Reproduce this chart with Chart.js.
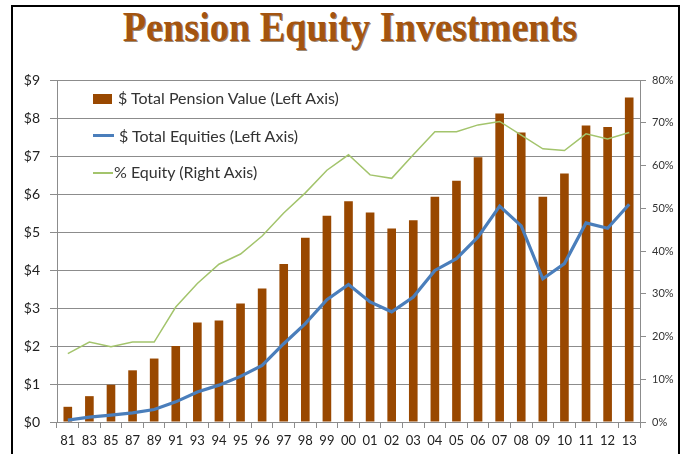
<!DOCTYPE html>
<html>
<head>
<meta charset="utf-8">
<script src="https://cdn.jsdelivr.net/npm/chart.js@4"></script>
<style>
  html, body { margin: 0; padding: 0; background: #fff; overflow: hidden; }
  body { width: 682px; height: 454px; position: relative; }
  #frame { position: absolute; left: 11px; top: 5px; width: 669px; height: 470px; border: 2px solid #000; box-sizing: border-box; }
  #title { position: absolute; left: 350px; top: 6px; transform: translateX(-50%) scaleX(0.91); white-space: nowrap;
           font-family: "Liberation Serif", serif; font-weight: bold; font-size: 42px; line-height: 42px;
           color: #a4540f; text-shadow: 1px 1px 0 rgba(70,35,0,0.55); }
  #wrap { position: absolute; left: 0; top: 0; width: 682px; height: 454px; }
  .lg { position: absolute; font-family: Lato, sans-serif; font-size: 16px; color: #333; white-space: nowrap; line-height: 16px; }
  .sw { position: absolute; }
</style>
</head>
<body>
<div id="frame"></div>
<div id="title">Pension Equity Investments</div>
<div id="wrap"><canvas id="myChart"></canvas></div>
<div id="legend"></div>
<script>
// Years (x axis)
const years = ['81','83','85','87','89','91','93','94','95','96','97','98','99','00',
               '01','02','03','04','05','06','07','08','09','10','11','12','13'];

// $ trillions, left axis
const totalPension = [0.40, 0.68, 0.98, 1.36, 1.67, 2.00, 2.62, 2.67, 3.12, 3.51, 4.16, 4.85, 5.43, 5.81,
                      5.51, 5.09, 5.31, 5.93, 6.35, 6.97, 8.12, 7.62, 5.93, 6.54, 7.80, 7.76, 8.54];
const totalEquities = [0.05, 0.13, 0.18, 0.24, 0.33, 0.53, 0.79, 0.97, 1.20, 1.49, 2.06, 2.59, 3.22, 3.62,
                       3.16, 2.90, 3.29, 3.99, 4.30, 4.87, 5.68, 5.16, 3.77, 4.17, 5.24, 5.10, 5.73];

// % equity, right axis
const pctEquity = [16.0, 18.7, 17.6, 18.7, 18.7, 26.9, 32.4, 36.9, 39.3, 43.5, 48.9, 53.6, 58.9, 62.5,
                   57.8, 57.0, 62.5, 67.9, 67.9, 69.5, 70.3, 67.1, 63.9, 63.5, 67.4, 66.2, 67.7];

const legendLabels = ['$ Total Pension Value (Left Axis)', '$ Total Equities (Left Axis)', '% Equity (Right Axis)'];

const brown = '#994800';
const blue = '#4a7ebb';
const green = '#a3c46c';
const gridGray = '#8c8c8c';
const tickFont = { family: 'Lato', size: 13 };

const ctx = document.getElementById('myChart').getContext('2d');
const chart = new Chart(ctx, {
    type: 'bar',
    data: {
        labels: years,
        datasets: [
            { type: 'line', label: legendLabels[2], data: pctEquity, yAxisID: 'y1', borderColor: green, borderWidth: 1.5,
              pointRadius: 0, tension: 0, order: 1 },
            { type: 'line', label: legendLabels[1], data: totalEquities, yAxisID: 'y', borderColor: blue, borderWidth: 3.2,
              pointRadius: 0, tension: 0, order: 2 },
            { type: 'bar', label: legendLabels[0], data: totalPension, yAxisID: 'y', backgroundColor: brown,
              barPercentage: 0.4, categoryPercentage: 1.0, order: 3 }
        ]
    },
    options: {
        responsive: true,
        maintainAspectRatio: false,
        animation: false,
        layout: { padding: { left: 0, right: 0, top: 80, bottom: 0 } },
        plugins: { legend: { display: false }, tooltip: { enabled: false } },
        scales: {
            x: {
                grid: { drawOnChartArea: false, drawTicks: true, tickLength: 6, color: gridGray, offset: true },
                border: { color: gridGray },
                ticks: { color: '#222', font: tickFont, padding: 5, maxRotation: 0, autoSkip: false },
                afterFit: s => { s.height = 32; }
            },
            y: {
                position: 'left',
                min: 0, max: 9,
                grid: { color: gridGray, tickLength: 7 },
                border: { color: gridGray },
                ticks: { stepSize: 1, color: '#222', font: { family: 'Lato', size: 14 }, padding: 10,
                         callback: v => '$' + v },
                afterFit: s => { s.width = 57; }
            },
            y1: {
                position: 'right',
                min: 0, max: 80,
                grid: { drawOnChartArea: false, tickLength: 6, color: gridGray },
                border: { color: gridGray },
                ticks: { stepSize: 10, color: '#333', font: { family: 'Lato', size: 11 }, padding: 6,
                         callback: v => v + '%' },
                afterFit: s => { s.width = 42; }
            }
        }
    }
});

// Legend inside the plot, upper left
const legend = document.getElementById('legend');
const legendItems = [
    { label: legendLabels[0], sw: 'left:93px;top:94px;width:19px;height:10px;background:' + brown, tx: 118, ty: 90 },
    { label: legendLabels[1], sw: 'left:93px;top:134px;width:21px;height:3px;background:' + blue, tx: 119, ty: 128 },
    { label: legendLabels[2], sw: 'left:93px;top:172px;width:20px;height:1.5px;background:' + green, tx: 114, ty: 164 }
];
legendItems.forEach(it => {
    const s = document.createElement('div');
    s.className = 'sw';
    s.style.cssText = it.sw;
    legend.appendChild(s);
    const t = document.createElement('div');
    t.className = 'lg';
    t.style.left = it.tx + 'px';
    t.style.top = it.ty + 'px';
    t.textContent = it.label;
    legend.appendChild(t);
});
</script>
</body>
</html>
